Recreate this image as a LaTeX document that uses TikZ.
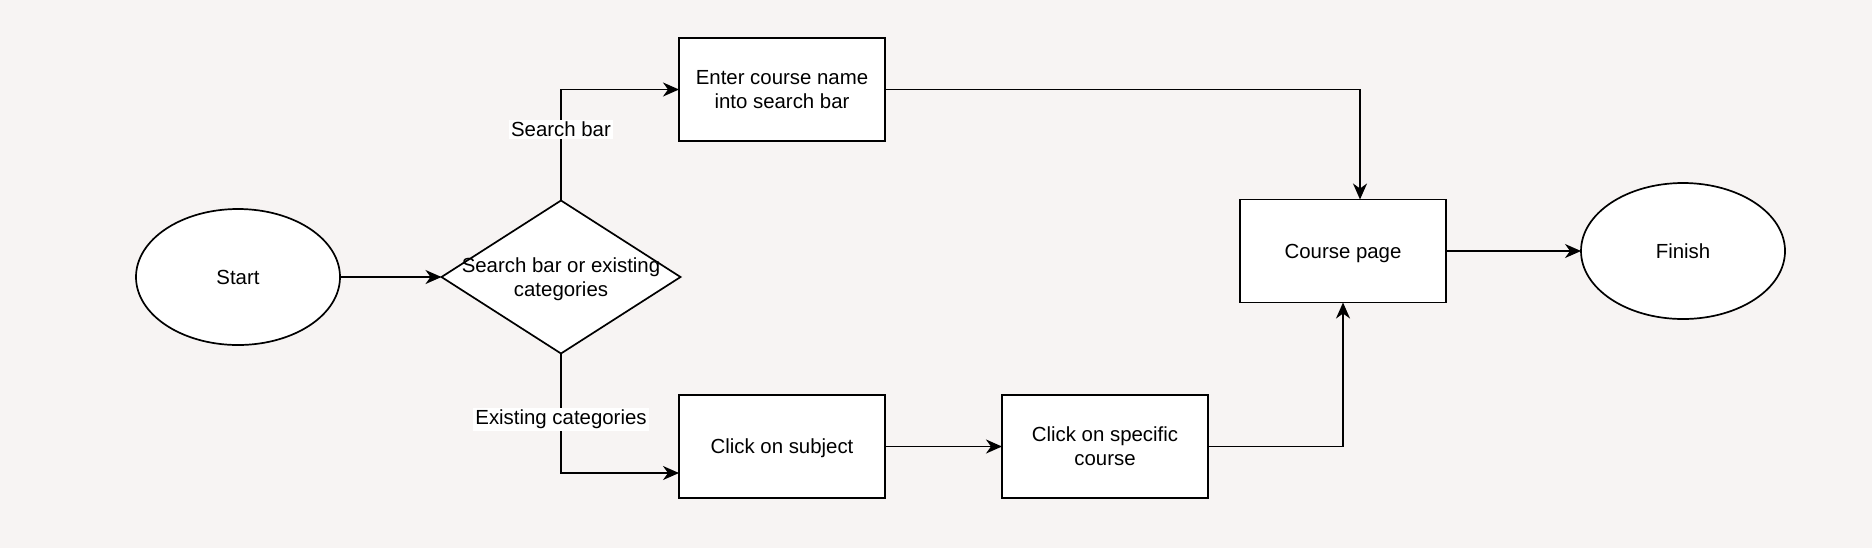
\documentclass[tikz,border=0pt]{standalone}
\usepackage{fontspec}
\setmainfont{Liberation Sans}
\usetikzlibrary{shapes.geometric,arrows.meta,calc}
\definecolor{bgc}{HTML}{F7F4F3}
\begin{document}
\begin{tikzpicture}[x=0.5pt,y=-0.5pt,
  font=\fontsize{10.2pt}{12pt}\selectfont,
  every node/.style={inner sep=0pt, outer sep=0pt},
  boxnode/.style={draw, fill=white, line width=0.85pt, minimum width=103pt, minimum height=51.5pt, align=center, text depth=-2pt},
  ovalnode/.style={draw, fill=white, ellipse, line width=0.85pt, minimum width=102pt, minimum height=68pt, text depth=-2pt},
  connector/.style={line width=0.85pt, -{Stealth[length=8pt,width=7pt,inset=2.5pt]}},
  lbl/.style={fill=white, inner sep=1pt}
]
\fill[bgc] (0,0) rectangle (1872,548);
\useasboundingbox (0,0) rectangle (1872,548);

\node[ovalnode] (start) at (238,277) {Start};
\node[draw, fill=white, diamond, line width=0.85pt, minimum width=119.5pt, minimum height=76.5pt] (dia) at (561,277) {};
\node[align=center] (diatext) at (561,279) {Search bar or existing\\categories};
\node[boxnode] (enter) at (782,89.5) {Enter course name\\into search bar};
\node[boxnode] (subj) at (782,446.5) {Click on subject};
\node[boxnode] (spec) at (1105,446.5) {Click on specific\\course};
\node[boxnode] (course) at (1343,251) {Course page};
\node[ovalnode] (finish) at (1683,251) {Finish};
\coordinate (subjin) at ($(subj.west)+(0,26.5)$);
\coordinate (coursein) at ($(course.north)+(17,0)$);

\draw[connector] (start.east) -- (dia.west);
\draw[connector] (dia.north) |- node[lbl, pos=0.32] (lsearch) {Search bar} (enter.west);
\draw[connector] (dia.south) |- node[lbl, pos=0.275] (lexist) {Existing categories} (subjin);
\draw[connector] (enter.east) -| (coursein);
\draw[connector] (subj.east) -- (spec.west);
\draw[connector] (spec.east) -| (course.south);
\draw[connector] (course.east) -- (finish.west);
\end{tikzpicture}
\end{document}
